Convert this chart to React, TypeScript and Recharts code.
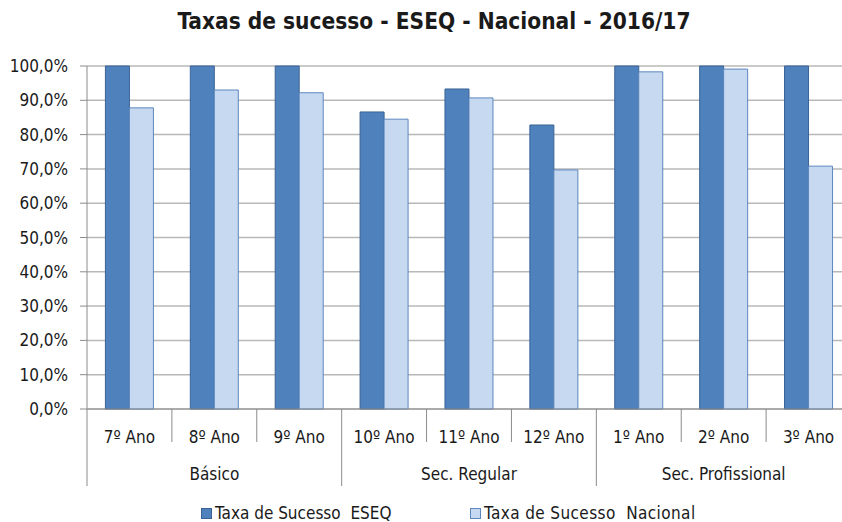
import React from "react";
import { Bar, BarChart, CartesianGrid, XAxis, YAxis } from "recharts";

const categories = ["7º Ano", "8º Ano", "9º Ano", "10º Ano", "11º Ano", "12º Ano", "1º Ano", "2º Ano", "3º Ano"];
const groups = ["Básico", "Básico", "Básico", "Sec. Regular", "Sec. Regular", "Sec. Regular", "Sec. Profissional", "Sec. Profissional", "Sec. Profissional"];
const eseq = [100, 100, 100, 86.6, 93.3, 82.8, 100, 100, 100];
const nacional = [87.8, 93.0, 92.2, 84.5, 90.7, 69.7, 98.3, 99.1, 70.8];
const yTicks = [0, 10, 20, 30, 40, 50, 60, 70, 80, 90, 100];

const data = categories.map((c, i) => ({ name: c, group: groups[i], eseq: eseq[i], nacional: nacional[i] }));

const FONT = "'Liberation Sans Narrow', 'DejaVu Sans Condensed', sans-serif";
const TEXT = "#1a1a1a";
const LINE = "#8c8c8c";

const fmtPct = (v: number) => v.toFixed(1).replace(".", ",") + "%";

function CategoryTick(props: any) {
  const { x, y, payload } = props;
  const i = payload.index as number;
  const half = payload.offset ?? 42.5;
  const groupStart = i === 0 || groups[i] !== groups[i - 1];
  // middle category of its group gets the group label
  let start = i;
  while (start > 0 && groups[start - 1] === groups[i]) start--;
  let end = i;
  while (end < groups.length - 1 && groups[end + 1] === groups[i]) end++;
  const isMid = i === Math.floor((start + end) / 2);
  return (
    <g>
      <line x1={x - half} x2={x - half} y1={y} y2={y + (groupStart ? 77 : 33)} stroke={LINE} />
      {i === groups.length - 1 && (
        <line x1={x + half} x2={x + half} y1={y} y2={y + 77} stroke={LINE} />
      )}
      <text x={x} y={y + 34} textAnchor="middle" fill={TEXT} fontSize={17} fontFamily={FONT}>
        {payload.value}
      </text>
      {isMid && (
        <text x={x} y={y + 71} textAnchor="middle" fill={TEXT} fontSize={17} fontFamily={FONT}>
          {groups[i]}
        </text>
      )}
    </g>
  );
}

export default function App() {
  return (
    <div style={{ position: "absolute", left: 0, top: 0, width: 842, height: 522, overflow: "hidden", background: "#fff" }}>
      <div
        style={{
          position: "absolute",
          left: 0,
          width: 868,
          top: 8,
          textAlign: "center",
          fontFamily: FONT,
          fontWeight: "bold",
          fontSize: 22.5,
          color: TEXT,
        }}
      >
        Taxas de sucesso - ESEQ - Nacional - 2016/17
      </div>
      <BarChart
        width={860}
        height={522}
        data={data}
        margin={{ top: 66, right: 9, left: 0, bottom: 33 }}
        barGap={0}
        barCategoryGap="21.7%"
      >
        <CartesianGrid vertical={false} stroke="#b8b8b8" strokeWidth={1.5} />
        <YAxis
          width={87}
          domain={[0, 100]}
          ticks={yTicks}
          tickFormatter={fmtPct}
          axisLine={{ stroke: LINE }}
          tickLine={{ stroke: LINE }}
          tickSize={7}
          tickMargin={12}
          tick={{ fill: TEXT, fontSize: 17, fontFamily: FONT }}
          interval={0}
        />
        <XAxis
          dataKey="name"
          height={80}
          interval={0}
          axisLine={{ stroke: LINE }}
          tickLine={false}
          tickSize={0}
          tickMargin={0}
          tick={<CategoryTick />}
        />
        <Bar dataKey="eseq" fill="#4f81bd" stroke="#3a6395" strokeWidth={1} isAnimationActive={false} />
        <Bar dataKey="nacional" fill="#c6d9f1" stroke="#5d87bd" strokeWidth={1} isAnimationActive={false} />
      </BarChart>
      <div
        style={{
          position: "absolute",
          top: 503,
          left: 0,
          width: 842,
          fontFamily: FONT,
          fontSize: 17,
          color: TEXT,
          whiteSpace: "pre",
        }}
      >
        <div style={{ position: "absolute", left: 201, top: 5, width: 9, height: 9, background: "#4f81bd", border: "1px solid #3a6395" }} />
        <div style={{ position: "absolute", left: 215, top: 0 }}>Taxa de Sucesso  ESEQ</div>
        <div style={{ position: "absolute", left: 470, top: 5, width: 9, height: 9, background: "#c6d9f1", border: "1px solid #5d87bd" }} />
        <div style={{ position: "absolute", left: 484, top: 0, letterSpacing: 0.4 }}>Taxa de Sucesso  Nacional</div>
      </div>
    </div>
  );
}
